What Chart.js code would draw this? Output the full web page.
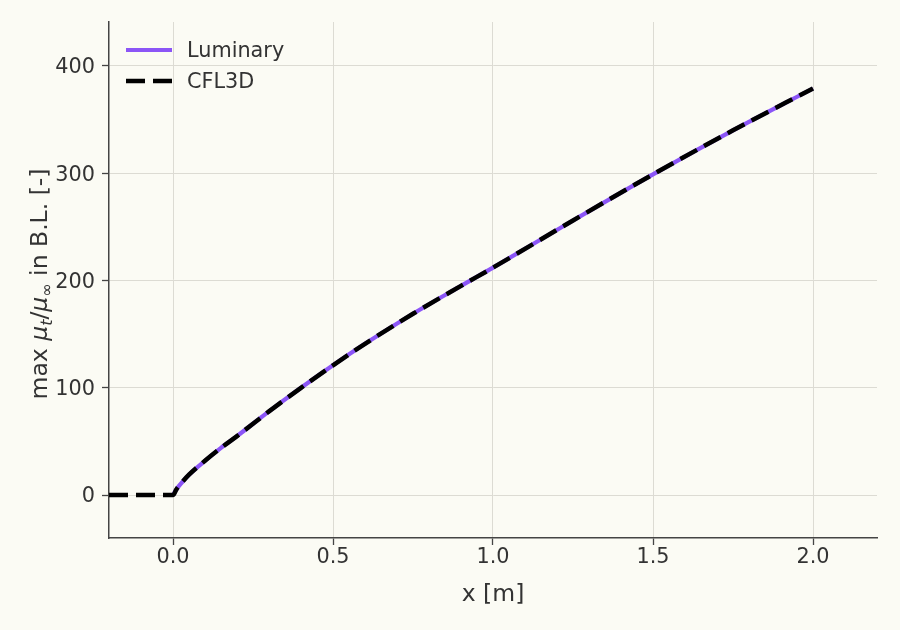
<!DOCTYPE html>
<html>
<head>
<meta charset="utf-8">
<script src="https://cdn.jsdelivr.net/npm/chart.js@4.4.1/dist/chart.umd.min.js"></script>
<style>
  html, body { margin: 0; padding: 0; background: #fbfbf4; }
  #wrap { width: 900px; height: 630px; }
</style>
</head>
<body>
<div id="wrap"><canvas id="chart"></canvas></div>
<script>
'use strict';

// values
const X_LUMINARY = [0, 0.01, 0.02, 0.05, 0.1, 0.15, 0.2, 0.3, 0.4, 0.5, 0.6, 0.75, 0.9, 1.0, 1.25, 1.5, 1.75, 2.0];
const Y_LUMINARY = [0, 5, 9, 19, 32, 44, 55, 78, 100, 121, 141, 169, 195, 212, 256, 299, 340, 379];
const X_CFL3D = [-0.2, -0.1, 0, 0.01, 0.02, 0.05, 0.1, 0.15, 0.2, 0.3, 0.4, 0.5, 0.6, 0.75, 0.9, 1.0, 1.25, 1.5, 1.75, 2.0];
const Y_CFL3D = [0, 0, 0, 5, 9, 19, 32, 44, 55, 78, 100, 121, 141, 169, 195, 212, 256, 299, 340, 379];
const X_TICKS = [0, 0.5, 1.0, 1.5, 2.0];
const Y_TICKS = [0, 100, 200, 300, 400];

const BG = '#fbfbf4';
const TEXT = '#333333';
const SPINE = '#444444';
const GRID = '#dcdbd3';
const FONT = "'DejaVu Sans', sans-serif";

const toPoints = (xs, ys) => xs.map((x, i) => ({ x, y: ys[i] }));

// ---------------------------------------------------------------------------
// Plugins
// ---------------------------------------------------------------------------
const background = {
  id: 'background',
  beforeDraw(chart) {
    const { ctx, width, height } = chart;
    ctx.save();
    ctx.fillStyle = BG;
    ctx.fillRect(0, 0, width, height);
    ctx.restore();
  },
};

// y title with mathtext-like pieces: max μ_t/μ_∞ in B.L. [-]
const yTitle = {
  id: 'yTitle',
  afterDraw(chart) {
    const { ctx, chartArea } = chart;
    const size = 23.5;
    const sub = 16;
    const parts = [
      { t: 'max ', f: `${size}px ${FONT}`, dy: 0 },
      { t: 'μ', f: `italic ${size}px ${FONT}`, dy: 0 },
      { t: 't', f: `italic ${sub}px ${FONT}`, dy: 5 },
      { t: '/', f: `${size}px ${FONT}`, dy: 0 },
      { t: 'μ', f: `italic ${size}px ${FONT}`, dy: 0 },
      { t: '∞', f: `${sub}px ${FONT}`, dy: 5 },
      { t: ' in B.L. [-]', f: `${size}px ${FONT}`, dy: 0 },
    ];
    ctx.save();
    let total = 0;
    parts.forEach(p => { ctx.font = p.f; p.w = ctx.measureText(p.t).width; total += p.w; });
    ctx.translate(47, (chartArea.top + chartArea.bottom) / 2 + 4);
    ctx.rotate(-Math.PI / 2);
    ctx.fillStyle = TEXT;
    ctx.textBaseline = 'alphabetic';
    ctx.textAlign = 'left';
    let x = -total / 2;
    parts.forEach(p => {
      ctx.font = p.f;
      ctx.fillText(p.t, x, p.dy);
      x += p.w;
    });
    ctx.restore();
  },
};

// legend in the upper left of the plot
const innerLegend = {
  id: 'innerLegend',
  afterDraw(chart) {
    const { ctx } = chart;
    const rows = [
      { ds: chart.data.datasets[0], y: 50 },
      { ds: chart.data.datasets[1], y: 81 },
    ];
    ctx.save();
    rows.forEach(({ ds, y }) => {
      ctx.beginPath();
      ctx.strokeStyle = ds.borderColor;
      ctx.lineWidth = ds.borderWidth;
      ctx.lineCap = 'butt';
      ctx.setLineDash(ds.borderDash || []);
      ctx.moveTo(126, y);
      ctx.lineTo(172, y);
      ctx.stroke();
      ctx.setLineDash([]);
      ctx.fillStyle = TEXT;
      ctx.font = `20.8px ${FONT}`;
      ctx.textBaseline = 'middle';
      ctx.fillText(ds.label, 187, y + 2);
    });
    ctx.restore();
  },
};

// ---------------------------------------------------------------------------
// Chart
// ---------------------------------------------------------------------------
new Chart(document.getElementById('chart'), {
  type: 'line',
  data: {
    datasets: [
      {
        label: 'Luminary',
        data: toPoints(X_LUMINARY, Y_LUMINARY),
        borderColor: '#8b55f6',
        borderWidth: 4.2,
        pointRadius: 0,
        cubicInterpolationMode: 'monotone',
        order: 1,
      },
      {
        label: 'CFL3D',
        data: toPoints(X_CFL3D, Y_CFL3D),
        borderColor: '#000000',
        borderWidth: 4.5,
        borderDash: [19, 8],
        borderCapStyle: 'butt',
        pointRadius: 0,
        cubicInterpolationMode: 'monotone',
        order: 0,
      },
    ],
  },
  options: {
    animation: false,
    responsive: true,
    maintainAspectRatio: false,
    layout: { padding: { top: 22, right: 23, left: 0, bottom: 17 } },
    plugins: {
      legend: { display: false },
      tooltip: { enabled: false },
    },
    scales: {
      x: {
        type: 'linear',
        min: -0.2,
        max: 2.2,
        afterBuildTicks: scale => { scale.ticks = X_TICKS.map(v => ({ value: v })); },
        afterFit: scale => { scale.height = 75; },
        ticks: {
          color: TEXT,
          font: { family: FONT, size: 20.8 },
          padding: 0,
          maxRotation: 0,
          callback: v => v.toFixed(1),
        },
        grid: { color: GRID, lineWidth: 1, tickColor: SPINE, tickLength: 7, tickWidth: 1.3 },
        border: { color: SPINE, width: 1.5 },
        title: {
          display: true,
          text: 'x [m]',
          color: TEXT,
          font: { family: FONT, size: 23.5 },
          padding: { top: 4, bottom: 4 },
        },
      },
      y: {
        type: 'linear',
        min: -40,
        max: 441,
        afterBuildTicks: scale => { scale.ticks = Y_TICKS.map(v => ({ value: v })); },
        afterFit: scale => { scale.width = 109; },
        ticks: {
          color: TEXT,
          font: { family: FONT, size: 20.8 },
          padding: 7,
          labelOffset: 2,
        },
        grid: { color: GRID, lineWidth: 1, tickColor: SPINE, tickLength: 7, tickWidth: 1.3 },
        border: { color: SPINE, width: 1.5 },
      },
    },
  },
  plugins: [background, yTitle, innerLegend],
});
</script>
</body>
</html>
